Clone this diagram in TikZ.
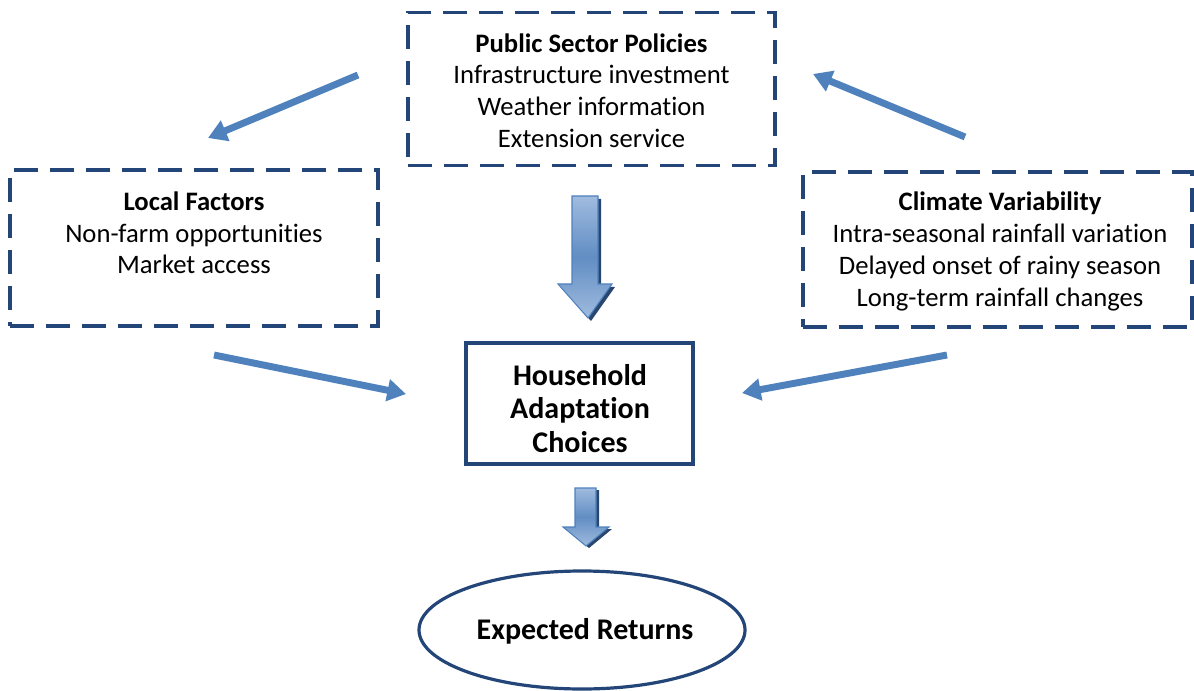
\documentclass[tikz,border=0pt]{standalone}
\usepackage{fontspec}
\setmainfont{Carlito}[Ligatures={NoCommon}]
\usetikzlibrary{arrows.meta,shapes.geometric}
\definecolor{boxblue}{RGB}{36,69,120}
\definecolor{arrblue}{RGB}{79,129,189}
\definecolor{shadblue}{RGB}{40,70,110}
\definecolor{lightblue}{RGB}{160,187,222}
\tikzset{
  dbox/.style={draw=boxblue, line width=2.7pt, dash pattern=on 18pt off 9pt, rectangle, inner sep=0pt},
  sbox/.style={draw=boxblue, line width=2.4pt, rectangle, inner sep=0pt},
  txt/.style={align=center, font=\fontsize{20}{23.8}\selectfont, inner sep=0pt},
  bigtxt/.style={align=center, font=\fontsize{22.5}{25.2}\selectfont\bfseries, inner sep=0pt},
  thinarrow/.style={draw=arrblue, line width=5.2pt, -{Triangle[length=14pt,width=16pt]}, shorten >=0pt},
  blockarrow/.style={draw=arrblue, line width=0.8pt, line join=miter, top color=lightblue, bottom color=lightblue, middle color=arrblue!90},
  blockshadow/.style={fill=shadblue},
}
\begin{document}
\begin{tikzpicture}[x=0.75pt,y=-0.75pt]
\useasboundingbox (0,0) rectangle (1194,691);
% boxes
\node[dbox, minimum width=367*0.75pt, minimum height=153*0.75pt] (pub) at (591.5,89) {};
\node[txt] (pubt) at (591.5,90.5) {\textbf{Public Sector Policies}\\Infrastructure investment\\Weather information\\Extension service};
\node[dbox, minimum width=368*0.75pt, minimum height=156*0.75pt] (loc) at (194,248) {};
\node[txt] (loct) at (194,233) {\textbf{Local Factors}\\Non-farm opportunities\\Market access};
\node[dbox, minimum width=389*0.75pt, minimum height=155*0.75pt] (cli) at (997.5,249.5) {};
\node[txt] (clit) at (1000,251.5) {\textbf{Climate Variability}\\Intra-seasonal rainfall variation\\Delayed onset of rainy season\\Long-term rainfall changes};
\node[sbox, minimum width=227*0.75pt, minimum height=121*0.75pt] (hh) at (579.5,403.5) {};
\node[bigtxt] (hht) at (580,408.5) {Household\\Adaptation\\Choices};
\node[ellipse, draw=boxblue, line width=2.4pt, minimum width=326*0.75pt, minimum height=118*0.75pt, inner sep=0pt] (er) at (582,630) {};
\node[bigtxt] (ert) at (585,631) {Expected Returns};
% thin arrows
\coordinate (a1s) at (358,75);
\coordinate (a1e) at (208,138);
\coordinate (a2s) at (965,137);
\coordinate (a2e) at (813,74);
\coordinate (a3s) at (214,355);
\coordinate (a3e) at (406,394);
\coordinate (a4s) at (947,355);
\coordinate (a4e) at (742,393);
\draw[thinarrow] (a1s) -- (a1e);
\draw[thinarrow] (a2s) -- (a2e);
\draw[thinarrow] (a3s) -- (a3e);
\draw[thinarrow] (a4s) -- (a4e);
% block arrow 1 (pub -> hh)
\begin{scope}[shift={(3,3)}]
\fill[blockshadow] (572,196) -- (598,196) -- (598,284) -- (612,284) -- (588,318) -- (558,284) -- (572,284) -- cycle;
\end{scope}
\path[blockarrow] (572,196) -- (598,196) -- (598,284) -- (612,284) -- (588,318) -- (558,284) -- (572,284) -- cycle;
% block arrow 2 (hh -> er)
\begin{scope}[shift={(3,2)}]
\fill[blockshadow] (575,488) -- (596,488) -- (596,527) -- (609,527) -- (586,546) -- (563,527) -- (575,527) -- cycle;
\end{scope}
\path[blockarrow] (575,488) -- (596,488) -- (596,527) -- (609,527) -- (586,546) -- (563,527) -- (575,527) -- cycle;
\end{tikzpicture}
\end{document}
